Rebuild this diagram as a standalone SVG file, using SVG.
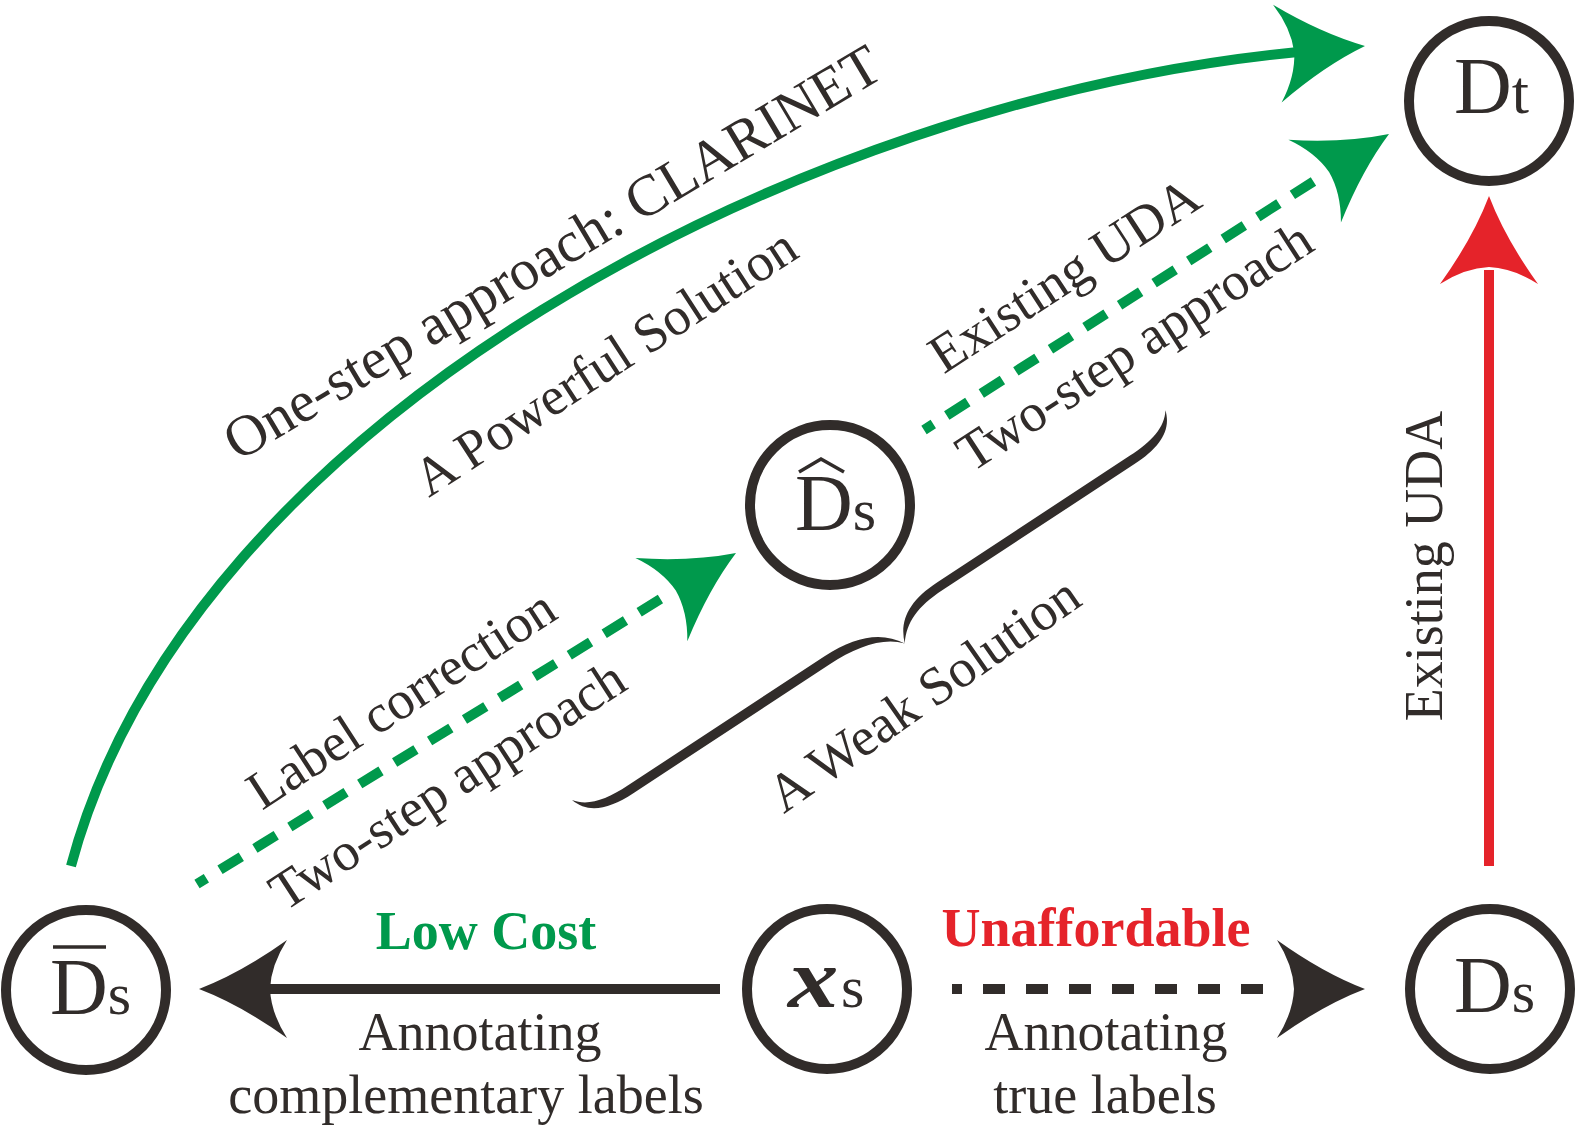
<svg xmlns="http://www.w3.org/2000/svg" xmlns:xlink="http://www.w3.org/1999/xlink" width="1575" height="1133" viewBox="0 0 1575 1133">
<style>
.node{fill:#fff;stroke:#312c2a;stroke-width:10}
.t{font-family:"Liberation Serif","Times New Roman",serif;fill:#312c2a}
.lbl{font-size:54px;text-anchor:middle}
.g{stroke:#00994c;fill:none;stroke-width:10}
.k{stroke:#312c2a;fill:none;stroke-width:10}
.r{stroke:#e5232a;fill:none;stroke-width:10}
</style>
<defs>
<path id="ah" d="M0,0 Q-42,-16 -88,-49 Q-72,-24 -71,0 Q-72,24 -88,49 Q-42,16 0,0 Z"/>
</defs>
<g id="connectors">
<path class="g" d="M71,866 C190,420 800,100 1298,52"/>
<use href="#ah" fill="#00994c" transform="translate(1365,46) rotate(-5)"/>
<path class="g" d="M197,884 L672,592" stroke-dasharray="25 16" stroke-dashoffset="14"/>
<use href="#ah" fill="#00994c" transform="translate(736,553) rotate(-32)"/>
<path class="g" d="M924,430 L1322,176" stroke-dasharray="25 16" stroke-dashoffset="14"/>
<use href="#ah" fill="#00994c" transform="translate(1389,134) rotate(-32.4)"/>
<path class="r" d="M1489,866 L1489,270"/>
<use href="#ah" fill="#e5232a" transform="translate(1489,196) rotate(-90)"/>
<path class="k" d="M720,989 L268,989"/>
<use href="#ah" fill="#312c2a" transform="translate(199,989) rotate(180)"/>
<path class="k" d="M952,989 L1272,989" stroke-dasharray="22 21" stroke-dashoffset="12"/>
<use href="#ah" fill="#312c2a" transform="translate(1365,989)"/>
</g>
<g id="brace" transform="translate(572,800) rotate(-33.3)">
<path fill="#312c2a" d="M0,0 C10,14 28,18.5 55,18.5 L290,18.5 C328,18.5 352,30 364,52 C372,30 390,18.5 425,18.5 L655,18.5 C682,18.5 700,14 710,0 C704,20 685,28 655,28 L425,28 C395,28 377,35 364,52 C350,35 322,28 290,28 L55,28 C25,28 6,20 0,0 Z"/>
</g>
<g id="labels" class="t">
<text class="lbl" style="font-size:58px" transform="translate(562,269) rotate(-30.8)">One-step approach: CLARINET</text>
<text class="lbl" transform="translate(615,377) rotate(-33)">A Powerful Solution</text>
<text class="lbl" transform="translate(1074,290) rotate(-33)">Existing UDA</text>
<text class="lbl" transform="translate(1144,361) rotate(-33)">Two-step approach</text>
<text class="lbl" transform="translate(411,714) rotate(-33)">Label correction</text>
<text class="lbl" transform="translate(457,800) rotate(-33)">Two-step approach</text>
<text class="lbl" transform="translate(934,709) rotate(-35)">A Weak Solution</text>
<text class="lbl" transform="translate(1442,566) rotate(-90)">Existing UDA</text>
<text class="lbl" x="486" y="949" font-weight="bold" style="fill:#00994c">Low Cost</text>
<text class="lbl" x="1096" y="946" font-weight="bold" style="fill:#e5232a">Unaffordable</text>
<text class="lbl" x="480" y="1050">Annotating</text>
<text class="lbl" x="466" y="1113">complementary labels</text>
<text class="lbl" x="1106" y="1050">Annotating</text>
<text class="lbl" x="1105" y="1113">true labels</text>
</g>
<g id="node-dbar">
<circle class="node" cx="86" cy="990" r="80"/>
<text class="t" x="50" y="1014"><tspan font-size="80">D</tspan><tspan font-size="60">s</tspan></text>
<line x1="53" y1="947" x2="106" y2="947" stroke="#312c2a" stroke-width="3.5"/>
</g>
<g id="node-xs">
<circle class="node" cx="827" cy="989" r="80"/>
<text class="t" font-size="84" font-style="italic" font-weight="bold" transform="translate(788,1007) scale(1.2,1)">x</text>
<text class="t" font-size="60" x="841" y="1007">s</text>
</g>
<g id="node-ds">
<circle class="node" cx="1490" cy="989" r="80"/>
<text class="t" x="1454" y="1012"><tspan font-size="80">D</tspan><tspan font-size="60">s</tspan></text>
</g>
<g id="node-dhat">
<circle class="node" cx="830" cy="505" r="80"/>
<text class="t" x="795" y="530"><tspan font-size="80">D</tspan><tspan font-size="60">s</tspan></text>
<polyline points="799,472 821,459 844,472" fill="none" stroke="#312c2a" stroke-width="3.5"/>
</g>
<g id="node-dt">
<circle class="node" cx="1489" cy="101" r="80"/>
<text class="t" x="1454" y="113"><tspan font-size="80">D</tspan><tspan font-size="62">t</tspan></text>
</g>
</svg>
